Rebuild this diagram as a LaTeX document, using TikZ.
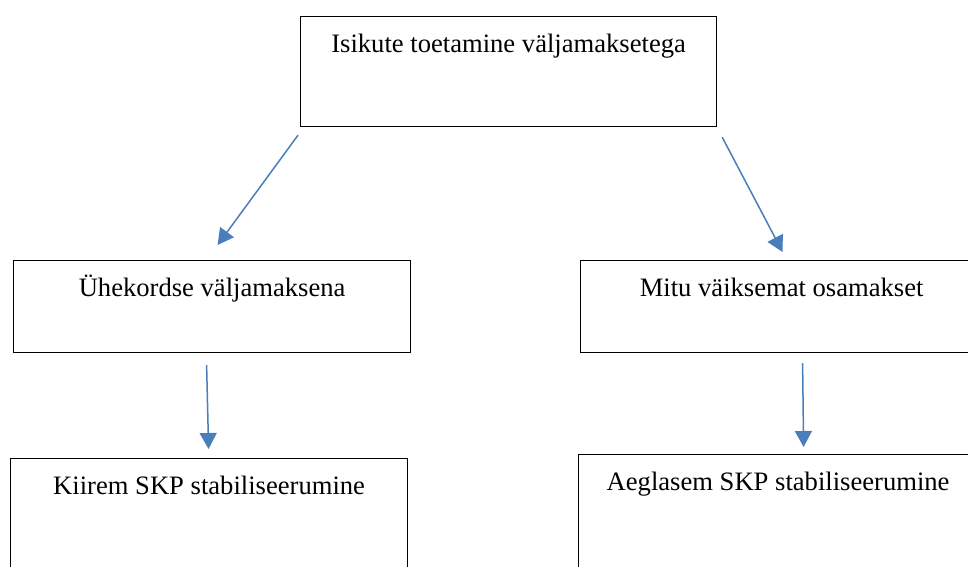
\documentclass[tikz,border=0pt]{standalone}
\usepackage{fontspec}
\setmainfont{Liberation Serif}
\usetikzlibrary{arrows.meta}
\definecolor{arrowblue}{HTML}{4A7EBB}
\tikzset{
  box/.style={draw, line width=1.2pt, rectangle, inner sep=0pt, anchor=north west},
  lbl/.style={anchor=base, inner sep=0pt, font=\fontsize{26.6}{32}\selectfont},
  arr/.style={-{Triangle[length=16pt, width=17pt]}, line width=1.5pt, arrowblue}
}
\begin{document}
\begin{tikzpicture}[x=1pt, y=-1pt]
\clip (0,0) rectangle (968,566);
% Boxes
\node[box, minimum width=416pt, minimum height=110pt] (top) at (300,16) {};
\node[box, minimum width=397pt, minimum height=92pt] (one) at (13,260) {};
\node[box, minimum width=402pt, minimum height=92pt] (two) at (580,260) {};
\node[box, minimum width=397pt, minimum height=130pt] (three) at (10,458) {};
\node[box, minimum width=399pt, minimum height=130pt] (four) at (578,454) {};

% Texts
\node[lbl] (topT) at ([yshift=-36pt]top.north) {Isikute toetamine väljamaksetega};
\node[lbl] (oneT) at ([yshift=-36pt]one.north) {Ühekordse väljamaksena};
\node[lbl] (twoT) at ([yshift=-36pt]two.north) {Mitu väiksemat osamakset};
\node[lbl] (threeT) at ([yshift=-36pt]three.north) {Kiirem SKP stabiliseerumine};
\node[lbl] (fourT) at ([yshift=-36pt]four.north) {Aeglasem SKP stabiliseerumine};

% Arrows
\draw[arr] ([shift={(-2,8)}]top.south west) -- ([shift={(5.5,-15)}]one.north);
\draw[arr] ([shift={(5,10)}]top.south east) -- ([shift={(1,-8)}]two.north);
\draw[arr] ([shift={(-5.5,12)}]one.south) -- ([shift={(-0.5,-9)}]three.north);
\draw[arr] ([shift={(21,10)}]two.south) -- ([shift={(25.5,-7)}]four.north);
\end{tikzpicture}
\end{document}
